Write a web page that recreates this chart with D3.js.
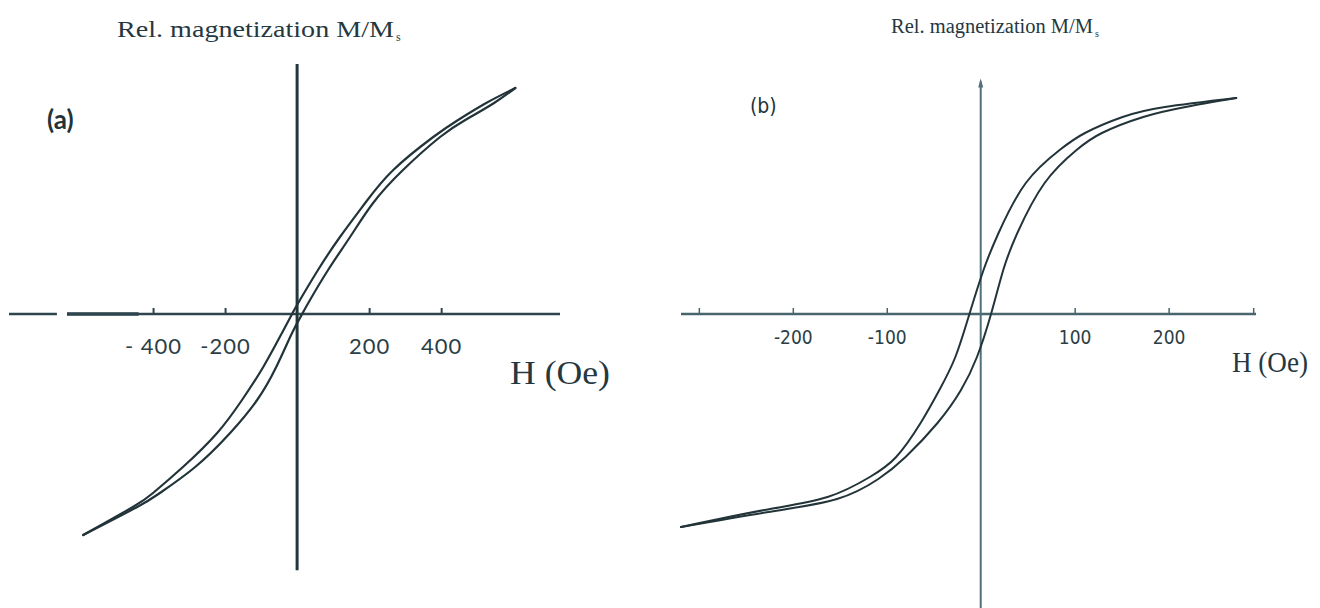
<!DOCTYPE html>
<html>
<head>
<meta charset="utf-8">
<script src="https://cdn.jsdelivr.net/npm/d3@7"></script>
<style>
  body { margin: 0; background: #fff; }
  svg { display: block; }
</style>
</head>
<body>
<svg id="svg1" width="1320" height="608"></svg>
<script>
"use strict";

// panel (a) : field H (Oe) and relative magnetization M/Ms
let aDescH = [606, 525, 447, 378, 267, 189, 119, 58, 3, -14, -42, -94, -153, -222, -317, -400, -456, -594];
let aDescM = [0.904, 0.844, 0.776, 0.708, 0.576, 0.444, 0.308, 0.176, 0.044, 0, -0.076, -0.212, -0.344, -0.476, -0.612, -0.716, -0.772, -0.884];
let aAscH = [-594, -444, -381, -283, -186, -111, -58, -14, 14, 31, 86, 147, 211, 294, 397, 467, 547, 606];
let aAscM = [-0.884, -0.772, -0.716, -0.612, -0.476, -0.344, -0.212, -0.076, 0, 0.044, 0.176, 0.308, 0.444, 0.576, 0.708, 0.776, 0.844, 0.904];
let aTicks = [-400, -200, 200, 400];
let aTickLabels = ["- 400", "-200", "200", "400"];

// panel (b)
let bDescH = [272, 196, 151, 111, 84, 48, 19, 3, -12, -27, -44, -64, -90, -118, -163, -230, -319];
let bDescM = [0.864, 0.828, 0.788, 0.724, 0.656, 0.524, 0.324, 0.176, 0, -0.172, -0.304, -0.436, -0.572, -0.652, -0.732, -0.784, -0.852];
let bAscH = [-319, -226, -153, -109, -80, -46, -21, -4, 11, 24, 39, 68, 102, 129, 173, 218, 272];
let bAscM = [-0.852, -0.792, -0.74, -0.66, -0.572, -0.436, -0.304, -0.172, 0, 0.176, 0.324, 0.524, 0.656, 0.724, 0.788, 0.828, 0.864];
let bTicks = [-300, -200, -100, 100, 200, 290];
let bTickLabels = ["", "-200", "-100", "100", "200", ""];

let svg = d3.select("#svg1");
let ink = "#22343a";

function toPoints(hs, ms) {
  return hs.map((h, i) => [h, ms[i]]);
}

// one hysteresis panel
function drawPanel(p) {
  let x = d3.scaleLinear().domain(p.hDomain).range(p.xRange),
      y = d3.scaleLinear().domain([-1, 1]).range([564, 64]),
      g = svg.append("g");

  // horizontal axis, ticks pointing up and labels below
  let axis = d3.axisBottom(x)
      .tickValues(p.ticks)
      .tickFormat((d, i) => p.tickLabels[i])
      .tickSize(-6)
      .tickSizeOuter(0)
      .tickPadding(p.labelPad);

  let ax = g.append("g")
      .attr("transform", `translate(0,${y(0)})`)
      .call(axis);
  ax.select(".domain").remove();
  ax.selectAll(".tick line").attr("stroke", p.axisColor).attr("stroke-width", p.tickWidth);
  ax.selectAll(".tick text")
      .attr("fill", "#2c3e45")
      .style("font-family", p.tickFont)
      .style("font-size", p.tickSize + "px")
      .style("letter-spacing", p.tickSpacing + "px");

  p.hSegments.forEach(s => {
    g.append("line")
      .attr("x1", x(s[0])).attr("x2", x(s[1]))
      .attr("y1", y(0)).attr("y2", y(0))
      .attr("stroke", p.axisColor)
      .attr("stroke-width", s[2]);
  });

  // vertical axis
  g.append("line")
    .attr("x1", x(0)).attr("x2", x(0))
    .attr("y1", y(p.vExtent[1])).attr("y2", y(p.vExtent[0]))
    .attr("stroke", p.vColor)
    .attr("stroke-width", p.vWidth);

  if (p.arrow) {
    let tip = y(p.vExtent[1]);
    g.append("path")
      .attr("d", `M${x(0)},${tip - 3} l-2.5,9 l5,0 z`)
      .attr("fill", p.vColor);
  }

  let line = d3.line()
      .x(d => x(d[0]))
      .y(d => y(d[1]))
      .curve(d3.curveNatural);

  [toPoints(p.descH, p.descM), toPoints(p.ascH, p.ascM)].forEach(pts => {
    g.append("path")
      .attr("d", line(pts))
      .attr("fill", "none")
      .attr("stroke", ink)
      .attr("stroke-width", p.curveWidth)
      .attr("stroke-linecap", "round");
  });

  // title above the vertical axis, subscript kept as its own text
  let serif = "'Liberation Serif', 'Times New Roman', serif";
  g.append("text")
    .attr("x", p.title[0]).attr("y", p.title[1])
    .attr("fill", "#26383f")
    .style("font-family", serif)
    .style("font-size", p.title[2] + "px")
    .attr("textLength", p.title[3])
    .attr("lengthAdjust", "spacingAndGlyphs")
    .text("Rel. magnetization M/M");
  g.append("text")
    .attr("x", p.title[0] + p.title[3] + 2).attr("y", p.title[1] + 4)
    .attr("fill", "#26383f")
    .style("font-family", serif)
    .style("font-size", Math.round(p.title[2] * 0.5) + "px")
    .text("s");

  g.append("text")
    .attr("x", p.letter[0]).attr("y", p.letter[1])
    .attr("fill", "#22343a")
    .style("font-family", p.letter[3])
    .style("font-size", p.letter[2] + "px")
    .style("font-weight", p.letter[4])
    .text(p.letterText);

  g.append("text")
    .attr("x", p.hLabel[0]).attr("y", p.hLabel[1])
    .attr("fill", "#26383f")
    .style("font-family", serif)
    .style("font-size", p.hLabel[2] + "px")
    .attr("textLength", p.hLabel[3])
    .attr("lengthAdjust", "spacingAndGlyphs")
    .text("H (Oe)");
}

drawPanel({
  hDomain: [-800, 730], xRange: [9, 560],
  ticks: aTicks, tickLabels: aTickLabels,
  labelPad: 24, tickFont: "Lato, 'Open Sans', sans-serif", tickSize: 22, tickSpacing: 1,
  tickWidth: 2, axisColor: "#2e454e",
  hSegments: [[-800, -667, 2.5], [-639, 730, 2.5], [-639, -440, 3.5]],
  vExtent: [-1.025, 1.0], vColor: "#22363d", vWidth: 3, arrow: false,
  descH: aDescH, descM: aDescM, ascH: aAscH, ascM: aAscM, curveWidth: 2.2,
  title: [117, 37, 23, 277],
  letter: [47, 129, 26, "Lato, 'Open Sans', sans-serif", "bold"], letterText: "(a)",
  hLabel: [510, 384, 34, 100]
});

drawPanel({
  hDomain: [-319, 293], xRange: [681, 1256],
  ticks: bTicks, tickLabels: bTickLabels,
  labelPad: 17, tickFont: "'Liberation Sans Narrow', 'DejaVu Sans Condensed', sans-serif", tickSize: 19, tickSpacing: 0,
  tickWidth: 1.5, axisColor: "#48646e",
  hSegments: [[-319, 293, 2.5]],
  vExtent: [-1.18, 0.93], vColor: "#50707b", vWidth: 2, arrow: true,
  descH: bDescH, descM: bDescM, ascH: bAscH, ascM: bAscM, curveWidth: 2,
  title: [891, 33, 20, 202],
  letter: [750, 113, 21, "'Liberation Sans Narrow', 'DejaVu Sans Condensed', sans-serif", "normal"], letterText: "(b)",
  hLabel: [1232, 372, 29, 76]
});
</script>
</body>
</html>
